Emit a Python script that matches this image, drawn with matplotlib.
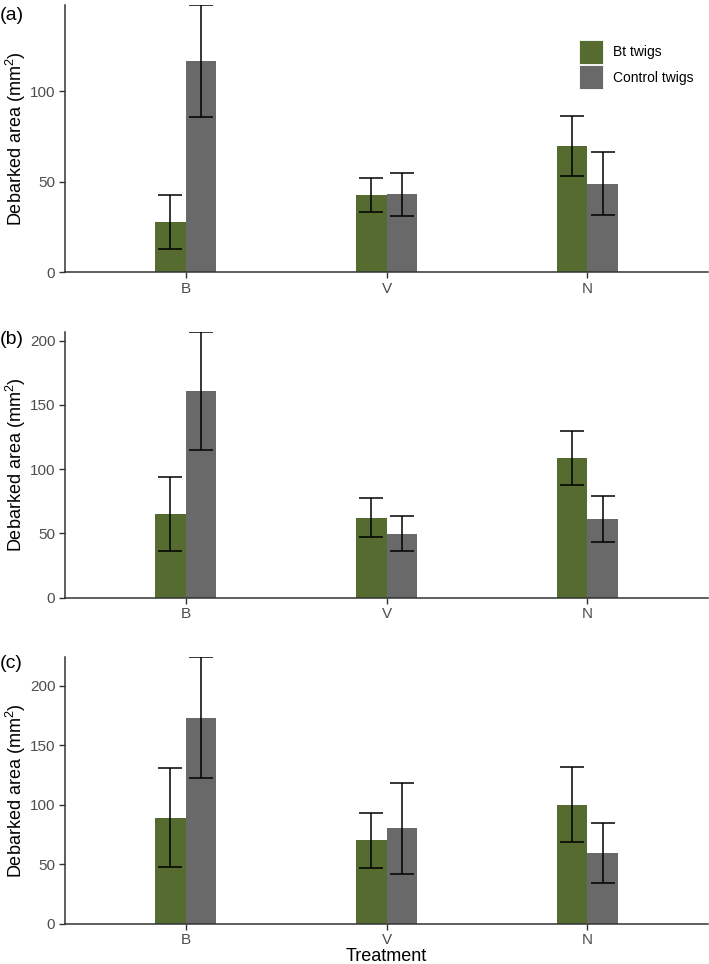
import matplotlib
matplotlib.use("Agg")
import matplotlib.pyplot as plt
import numpy as np
from matplotlib.patches import Patch

plt.rcParams['font.family'] = ['Liberation Sans', 'DejaVu Sans']
plt.rcParams['mathtext.fontset'] = 'custom'
plt.rcParams['mathtext.rm'] = 'Liberation Sans'
plt.rcParams['mathtext.it'] = 'Liberation Sans:italic'
plt.rcParams['mathtext.bf'] = 'Liberation Sans:bold'

treatments = ["B", "V", "N"]
series_names = ["Bt twigs", "Control twigs"]
colors = ["#556B2F", "#696969"]

# panel (a)
a_bt = [27.8, 42.4, 69.6]
a_bt_lo = [12.9, 33.1, 52.9]
a_bt_hi = [42.8, 52.0, 86.1]
a_ct = [116.7, 42.9, 48.9]
a_ct_lo = [85.7, 30.7, 31.3]
a_ct_hi = [147.6, 55.0, 66.3]

# panel (b)
b_bt = [64.9, 62.0, 108.5]
b_bt_lo = [36.1, 47.0, 87.5]
b_bt_hi = [93.9, 77.6, 129.7]
b_ct = [160.6, 49.6, 61.0]
b_ct_lo = [114.7, 36.3, 43.1]
b_ct_hi = [207.0, 63.3, 78.9]

# panel (c)
c_bt = [89.1, 70.1, 100.0]
c_bt_lo = [47.4, 47.1, 68.4]
c_bt_hi = [130.8, 93.0, 131.7]
c_ct = [173.1, 80.2, 59.2]
c_ct_lo = [122.4, 41.8, 34.2]
c_ct_hi = [224.4, 118.5, 84.9]

panels = [
    ("(a)", a_bt, a_bt_lo, a_bt_hi, a_ct, a_ct_lo, a_ct_hi, [0, 50, 100]),
    ("(b)", b_bt, b_bt_lo, b_bt_hi, b_ct, b_ct_lo, b_ct_hi, [0, 50, 100, 150, 200]),
    ("(c)", c_bt, c_bt_lo, c_bt_hi, c_ct, c_ct_lo, c_ct_hi, [0, 50, 100, 150, 200]),
]

W, H = 709, 964
fig = plt.figure(figsize=(W / 100, H / 100), dpi=100)

boxes = [(5, 272), (331.7, 597.7), (656.7, 923.7)]
left_px, right_px = 65, 708

label_y = [16, 339, 663]

x = np.arange(1, len(treatments) + 1)
bw = 0.15
tick_col = "#4D4D4D"

for i, (lab, bt, btlo, bthi, ct, ctlo, cthi, yt) in enumerate(panels):
    top, bot = boxes[i]
    ax = fig.add_axes([left_px / W, 1 - bot / H, (right_px - left_px) / W, (bot - top) / H])
    xb = x - bw / 2
    xc = x + bw / 2
    ax.bar(xb, bt, width=bw, color=colors[0], edgecolor="none", zorder=2)
    ax.bar(xc, ct, width=bw, color=colors[1], edgecolor="none", zorder=2)
    bt = np.array(bt); ct = np.array(ct)
    ax.errorbar(xb, bt, yerr=[bt - np.array(btlo), np.array(bthi) - bt], fmt="none",
                ecolor="black", elinewidth=1.1, capsize=8.6, capthick=1.1, zorder=3)
    ax.errorbar(xc, ct, yerr=[ct - np.array(ctlo), np.array(cthi) - ct], fmt="none",
                ecolor="black", elinewidth=1.1, capsize=8.6, capthick=1.1, zorder=3)
    ymax = max(max(bthi), max(cthi))
    ax.set_ylim(0, ymax)
    ax.set_xlim(0.4, 3.6)
    ax.set_xticks(x)
    ax.set_xticklabels(treatments)
    ax.set_yticks(yt)
    for s in ["top", "right"]:
        ax.spines[s].set_visible(False)
    for s in ["left", "bottom"]:
        ax.spines[s].set_color("#333333")
        ax.spines[s].set_linewidth(1.1)
    ax.tick_params(axis="both", colors="#333333", labelcolor=tick_col, labelsize=11,
                   length=4, width=1.0, pad=3)
    ax.set_ylabel("Debarked area (mm$^2$)", fontsize=13)
    ax.yaxis.set_label_coords((28 - left_px) / (right_px - left_px), 0.5)
    fig.text(0 / W, 1 - label_y[i] / H, lab, fontsize=14, ha="left", va="center")
    if i == 0:
        handles = [Patch(facecolor=colors[0], edgecolor="white", linewidth=0.6),
                   Patch(facecolor=colors[1], edgecolor="white", linewidth=0.6)]
        leg = ax.legend(handles, series_names, loc="upper left",
                        bbox_to_anchor=((579 - left_px) / (right_px - left_px), 1 - (40 - top) / (bot - top)),
                        frameon=False, fontsize=10, handlelength=1.75, handleheight=2.3,
                        handletextpad=0.7, labelspacing=0.08, borderpad=0, borderaxespad=0)
    if i == 2:
        ax.set_xlabel("Treatment", fontsize=13, labelpad=0.5)

fig.savefig("out.png", dpi=100)
